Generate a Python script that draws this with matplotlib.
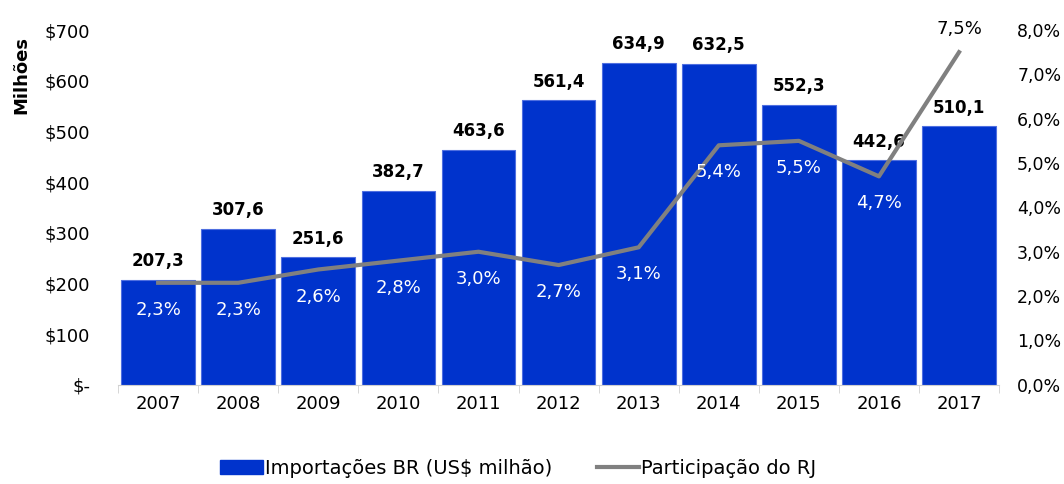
import matplotlib
matplotlib.use("Agg")
import matplotlib.pyplot as plt
from matplotlib.ticker import FixedLocator
from matplotlib.lines import Line2D
from matplotlib.patches import Patch

years = ["2007", "2008", "2009", "2010", "2011", "2012", "2013", "2014", "2015", "2016", "2017"]
imports = [207.3, 307.6, 251.6, 382.7, 463.6, 561.4, 634.9, 632.5, 552.3, 442.6, 510.1]
share = [2.3, 2.3, 2.6, 2.8, 3.0, 2.7, 3.1, 5.4, 5.5, 4.7, 7.5]
left_ticks = [0, 100, 200, 300, 400, 500, 600, 700]
left_labels = ["$-", "$100", "$200", "$300", "$400", "$500", "$600", "$700"]
right_ticks = [0, 1, 2, 3, 4, 5, 6, 7, 8]
right_labels = ["0,0%", "1,0%", "2,0%", "3,0%", "4,0%", "5,0%", "6,0%", "7,0%", "8,0%"]

plt.rcParams['font.family'] = ['DejaVu Sans']
fig = plt.figure(figsize=(10.64, 4.84), dpi=100)
ax = fig.add_axes([0.111, 0.205, 0.828, 0.733])
x = list(range(len(years)))
bar_color = "#0033CC"
ax.bar(x, imports, width=0.92, color=bar_color, edgecolor="#4f6fe0", linewidth=0.8, zorder=2)
ax.set_xlim(-0.5, len(years) - 0.5)
ax.set_ylim(0, 700)
ax.set_yticks(left_ticks)
ax.set_yticklabels(left_labels, fontsize=13)
ax.set_xticks(x)
ax.set_xticklabels(years, fontsize=13)
ax.tick_params(axis='x', length=0, pad=7)
ax.tick_params(axis='y', length=0, pad=20)
ax.xaxis.set_minor_locator(FixedLocator([i - 0.5 for i in range(len(years) + 1)]))
ax.tick_params(axis='x', which='minor', length=6, color="#d0d0d0")
for s in ["top", "left", "right"]:
    ax.spines[s].set_visible(False)
ax.spines["bottom"].set_color("#d0d0d0")

for xi, v in zip(x, imports):
    ax.annotate(f"{v:.1f}".replace(".", ","), (xi, v), xytext=(0, 7), textcoords="offset points",
                ha="center", va="bottom", fontsize=12, fontweight="bold", color="black")

ax2 = ax.twinx()
ax2.set_ylim(0, 8)
ax2.plot(x, share, color="#808080", linewidth=3, zorder=3)
ax2.set_yticks(right_ticks)
ax2.set_yticklabels(right_labels, fontsize=12.5)
ax2.tick_params(axis='y', length=0, pad=13)
for s in ["top", "left", "right", "bottom"]:
    ax2.spines[s].set_visible(False)

for xi, v in zip(x, share):
    lbl = f"{v:.1f}%".replace(".", ",")
    if xi == len(x) - 1:
        ax2.annotate(lbl, (xi, v), xytext=(0, 10), textcoords="offset points",
                     ha="center", va="bottom", fontsize=13, color="black")
    else:
        ax2.annotate(lbl, (xi, v), xytext=(0, -13), textcoords="offset points",
                     ha="center", va="top", fontsize=13, color="white")

fig.text(0.02, 0.845, "Milhões", rotation=90, fontsize=13, fontweight="bold", ha="center", va="center")

handles = [Patch(color=bar_color, label="Importações BR (US$ milhão)"),
           Line2D([0], [0], color="#808080", linewidth=3, label="Participação do RJ")]
fig.legend(handles=handles, loc="center", bbox_to_anchor=(0.487, 0.033), ncol=2, frameon=False,
           fontsize=14, handlelength=2.2, handletextpad=0.1, columnspacing=2.3)

fig.savefig("out.png", dpi=100)
